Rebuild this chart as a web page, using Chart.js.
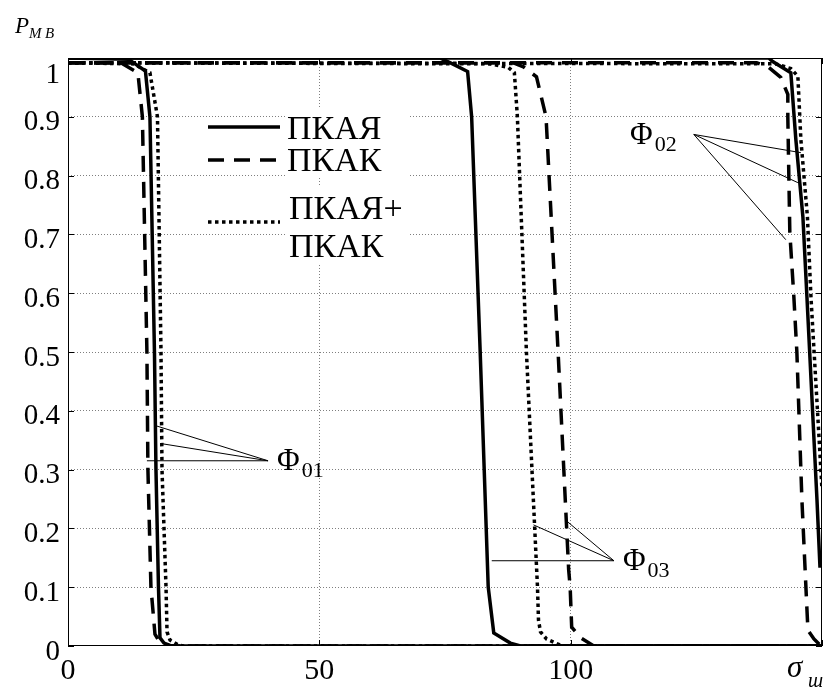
<!DOCTYPE html>
<html><head><meta charset="utf-8">
<script src="https://cdn.jsdelivr.net/npm/chart.js@4/dist/chart.umd.min.js"></script>
<style>html,body{margin:0;padding:0;background:#fff}canvas{display:block}</style>
</head><body>
<canvas id="c" width="829" height="689"></canvas>
<script>
// Axis ticks
const xTicks = [0, 50, 100, 150];
const xTickLabels = ['0', '50', '100', ''];
const yTicks = [0, 0.1, 0.2, 0.3, 0.4, 0.5, 0.6, 0.7, 0.8, 0.9, 1];
const yTickLabels = ['0', '0.1', '0.2', '0.3', '0.4', '0.5', '0.6', '0.7', '0.8', '0.9', '1'];

// Legend entries
const legendNames = ['ПКАЯ', 'ПКАК', ['ПКАЯ+', 'ПКАК']];

// P_MB versus sigma, pairs [sigma, P], three curves per Phi0 value
const f01Solid  = [[0,1],[12,0.998],[15.4,0.978],[16.3,0.9],[17.2,0.5],[17.5,0.3],[18.0,0.1],[18.3,0.014],[19.1,0.005],[20.3,0.001],[22,0],[150,0]];
const f01Dashed = [[0,0.992],[10.5,0.992],[13.9,0.975],[14.8,0.9],[15.7,0.5],[15.9,0.3],[16.5,0.1],[17.3,0.02],[18.5,0.003],[20,0],[150,0]];
const f01Dotted = [[0,0.992],[13,0.99],[16.3,0.975],[17.8,0.9],[18.5,0.5],[18.7,0.3],[19.5,0.1],[19.7,0.024],[20.3,0.01],[21.9,0.002],[23,0],[150,0]];

const f03Solid  = [[0,1],[74,1],[76.5,0.99],[79.5,0.977],[80.3,0.9],[82.0,0.5],[83.6,0.1],[84.7,0.022],[88.0,0.005],[90,0],[150,0]];
const f03Dashed = [[0,0.992],[88.5,0.992],[90.6,0.985],[93.2,0.968],[95.1,0.9],[97.5,0.5],[99.6,0.13],[99.9,0.1],[100.2,0.032],[102.0,0.014],[104.6,0],[150,0]];
const f03Dotted = [[0,0.992],[84,0.99],[87.6,0.984],[88.8,0.975],[89.4,0.9],[91.2,0.5],[93.4,0.1],[93.6,0.044],[94.0,0.024],[95.2,0.012],[97.0,0.005],[98.4,0],[150,0]];

const f02Solid  = [[0,1],[139.4,1],[140.2,0.994],[143.8,0.975],[144.8,0.861],[146.2,0.73],[147.0,0.594],[149.0,0.249],[149.6,0.133]];
const f02Dashed = [[0,0.992],[137,0.992],[139.4,0.984],[141.8,0.967],[143.2,0.938],[143.2,0.9],[143.6,0.703],[144.4,0.594],[145.0,0.5],[146.0,0.249],[146.8,0.1],[147.2,0.027],[148.4,0.012],[149.8,0],[150,0]];
const f02Dotted = [[0,0.992],[140.8,0.99],[143.8,0.982],[145.2,0.969],[145.8,0.861],[147.1,0.73],[147.8,0.594],[150,0.266]];

// Leader lines: hub point, curve points, label anchor (data units)
const phiNotes = [
  { sub: '01', hub: [39.8, 0.315], ends: [[17.7, 0.374], [18.7, 0.344], [15.7, 0.315]], label: [41.6, 0.299] },
  { sub: '03', hub: [108.6, 0.145], ends: [[84.3, 0.145], [92.6, 0.206], [99.0, 0.214]], label: [110.4, 0.129] },
  { sub: '02', hub: [124.5, 0.870], ends: [[145.8, 0.839], [145.2, 0.788], [142.8, 0.691]], label: [111.8, 0.853] }
];

const SERIF = '"Liberation Serif", "Times New Roman", serif';
const LW = 3.5;
const styles = {
  solid:  { borderDash: [] },
  dashed: { borderDash: [16, 10] },
  dotted: { borderDash: [3.5, 3.5] }
};
const toXY = arr => arr.map(p => ({ x: p[0], y: p[1] }));
const mk = (data, st) => Object.assign({
  data: toXY(data), borderColor: '#000', borderWidth: LW, pointRadius: 0,
  fill: false, tension: 0, borderCapStyle: 'butt', borderJoinStyle: 'miter'
}, styles[st]);

const datasets = [
  mk(f01Solid, 'solid'), mk(f01Dashed, 'dashed'), mk(f01Dotted, 'dotted'),
  mk(f03Solid, 'solid'), mk(f03Dashed, 'dashed'), mk(f03Dotted, 'dotted'),
  mk(f02Solid, 'solid'), mk(f02Dashed, 'dashed'), mk(f02Dotted, 'dotted')
];

const decor = {
  id: 'decor',
  afterDraw(chart) {
    const { ctx, chartArea: a, scales: { x, y } } = chart;
    ctx.save();
    // frame
    ctx.strokeStyle = '#000';
    ctx.lineWidth = 1;
    ctx.setLineDash([]);
    ctx.strokeRect(a.left + 0.5, a.top + 0.5, a.right - a.left - 1, a.bottom - a.top - 1);
    // inward tick marks
    const tl = 6;
    ctx.beginPath();
    yTicks.forEach(v => {
      const py = Math.round(y.getPixelForValue(v)) + 0.5;
      ctx.moveTo(a.left, py); ctx.lineTo(a.left + tl, py);
      ctx.moveTo(a.right, py); ctx.lineTo(a.right - tl, py);
    });
    xTicks.forEach(v => {
      const px = Math.round(x.getPixelForValue(v)) + 0.5;
      ctx.moveTo(px, a.bottom); ctx.lineTo(px, a.bottom - tl);
      ctx.moveTo(px, a.top); ctx.lineTo(px, a.top + tl);
    });
    ctx.stroke();

    // legend with white text boxes
    ctx.fillStyle = '#fff';
    ctx.fillRect(285, 108, 125, 69);
    ctx.fillRect(285, 187, 125, 77);
    ctx.strokeStyle = '#000';
    ctx.lineWidth = LW;
    const lx0 = 208, lx1 = 280;
    const legRows = [[127, 'solid'], [160, 'dashed'], [222, 'dotted']];
    legRows.forEach(([ly, st]) => {
      ctx.setLineDash(styles[st].borderDash);
      ctx.beginPath(); ctx.moveTo(lx0, ly); ctx.lineTo(lx1, ly); ctx.stroke();
    });
    ctx.setLineDash([]);
    ctx.fillStyle = '#000';
    ctx.font = '34px ' + SERIF;
    ctx.textAlign = 'left';
    ctx.textBaseline = 'alphabetic';
    ctx.fillText(legendNames[0], 287, 139);
    ctx.fillText(legendNames[1], 287, 171);
    ctx.fillText(legendNames[2][0], 289, 219);
    ctx.fillText(legendNames[2][1], 289, 257);

    // Phi leader lines and labels
    ctx.lineWidth = 1;
    phiNotes.forEach(n => {
      const hx = x.getPixelForValue(n.hub[0]), hy = y.getPixelForValue(n.hub[1]);
      ctx.beginPath();
      n.ends.forEach(e => { ctx.moveTo(hx, hy); ctx.lineTo(x.getPixelForValue(e[0]), y.getPixelForValue(e[1])); });
      ctx.stroke();
      const tx = x.getPixelForValue(n.label[0]), ty = y.getPixelForValue(n.label[1]);
      ctx.font = '31px ' + SERIF;
      ctx.fillText('Φ', tx, ty);
      const w = ctx.measureText('Φ').width;
      ctx.font = '22px ' + SERIF;
      ctx.fillText(n.sub, tx + w + 2, ty + 7);
    });

    // axis titles
    ctx.font = 'italic 23px ' + SERIF;
    ctx.fillText('P', 15, 33);
    ctx.font = 'italic 15px ' + SERIF;
    ctx.fillText('M', 29, 38);
    ctx.fillText('B', 45, 38);
    const sx = x.getPixelForValue(150);
    ctx.font = 'italic 31px ' + SERIF;
    ctx.fillText('σ', sx - 35, 677);
    ctx.font = 'italic 20px ' + SERIF;
    ctx.fillText('ш', sx - 14, 687);
    ctx.restore();
  }
};

Chart.defaults.font.family = SERIF;

new Chart(document.getElementById('c'), {
  type: 'line',
  data: { datasets },
  plugins: [decor],
  options: {
    responsive: false,
    animation: false,
    devicePixelRatio: 1,
    layout: { padding: { top: 58, right: 6, left: 0, bottom: 0 } },
    plugins: { legend: { display: false }, tooltip: { enabled: false } },
    scales: {
      x: {
        type: 'linear', min: 0, max: 150,
        afterBuildTicks: s => { s.ticks = xTicks.map(v => ({ value: v })); },
        afterFit: s => { s.height = 43; },
        grid: {
          drawTicks: false, lineWidth: 1,
          color: c => (c.tick && (c.tick.value === 0 || c.tick.value === 150)) ? 'rgba(0,0,0,0)' : 'rgba(0,0,0,0.5)'
        },
        border: { display: false, dash: [1, 2] },
        ticks: {
          color: '#000', padding: 7, maxRotation: 0, autoSkip: false,
          font: { family: SERIF, size: 30 },
          callback: (v, i) => xTickLabels[i]
        }
      },
      y: {
        type: 'linear', min: 0, max: 1,
        afterBuildTicks: s => { s.ticks = yTicks.map(v => ({ value: v })); },
        afterFit: s => { s.width = 68; },
        grid: {
          drawTicks: false, lineWidth: 1,
          color: c => (c.tick && (c.tick.value === 0 || c.tick.value === 1)) ? 'rgba(0,0,0,0)' : 'rgba(0,0,0,0.5)'
        },
        border: { display: false, dash: [1, 2] },
        ticks: {
          color: '#000', padding: 8, labelOffset: 6, autoSkip: false,
          // the top label sits a little lower, below the frame edge
          font: c => ({ family: SERIF, size: 29, lineHeight: (c.tick && c.tick.value === 1) ? 0.76 : 1.2 }),
          callback: (v, i) => (yTicks[i] === 1 ? ['', yTickLabels[i]] : yTickLabels[i])
        }
      }
    }
  }
});
</script>
</body></html>
